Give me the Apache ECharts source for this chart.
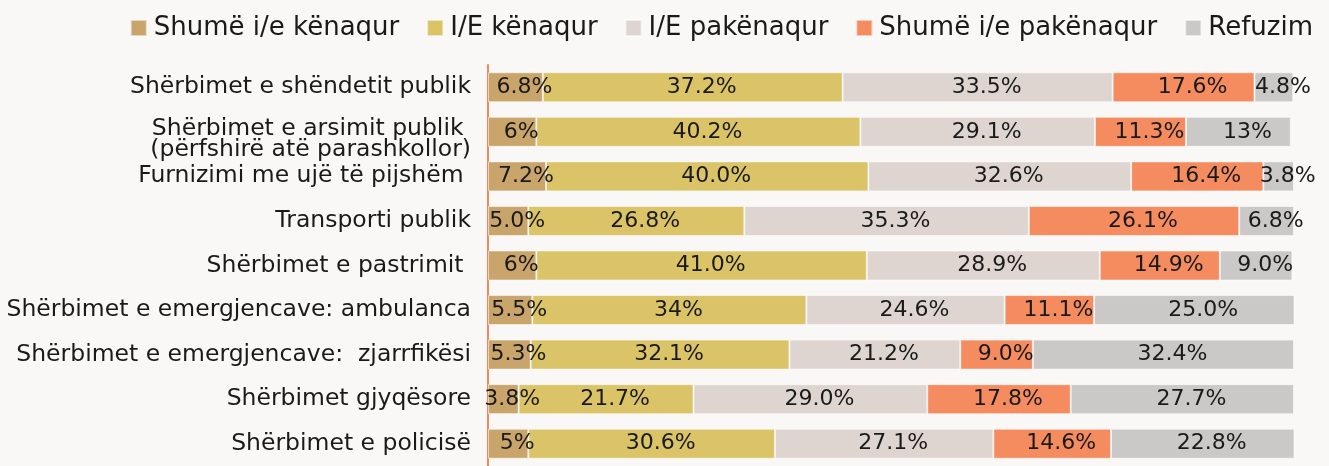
<!DOCTYPE html>
<html>
<head>
<meta charset="utf-8">
<script src="https://cdn.jsdelivr.net/npm/echarts@6/dist/echarts.min.js"></script>
<style>
  html, body { margin: 0; padding: 0; background: #f9f8f6; }
  #chart { width: 1329px; height: 466px; }
</style>
</head>
<body>
<div id="chart"></div>
<script>
// Services rated (top to bottom)
const categories = [
  'Shërbimet e shëndetit publik',
  'Shërbimet e arsimit publik \n(përfshirë atë parashkollor)',
  'Furnizimi me ujë të pijshëm ',
  'Transporti publik',
  'Shërbimet e pastrimit ',
  'Shërbimet e emergjencave: ambulanca',
  'Shërbimet e emergjencave:  zjarrfikësi',
  'Shërbimet gjyqësore',
  'Shërbimet e policisë'
];

const seriesNames = ['Shumë i/e kënaqur', 'I/E kënaqur', 'I/E pakënaqur', 'Shumë i/e pakënaqur', 'Refuzim'];

// Shares in percent, written as shown on the labels
const veryPleased    = ['6.8', '6',    '7.2',  '5.0',  '6',    '5.5',  '5.3',  '3.8',  '5'];
const pleased        = ['37.2', '40.2', '40.0', '26.8', '41.0', '34',   '32.1', '21.7', '30.6'];
const displeased     = ['33.5', '29.1', '32.6', '35.3', '28.9', '24.6', '21.2', '29.0', '27.1'];
const veryDispleased = ['17.6', '11.3', '16.4', '26.1', '14.9', '11.1', '9.0',  '17.8', '14.6'];
const refused        = ['4.8',  '13',   '3.8',  '6.8',  '9.0',  '25.0', '32.4', '27.7', '22.8'];

const colors = ['#c9a46b', '#dbc367', '#ded5d0', '#f48c60', '#cac9c7'];
const FONT = 'DejaVu Sans';

const allValues = [veryPleased, pleased, displeased, veryDispleased, refused];

const chart = echarts.init(document.getElementById('chart'), null, { renderer: 'canvas' });

chart.setOption({
  backgroundColor: '#f9f8f6',
  animation: false,
  color: colors,
  legend: {
    top: 10,
    right: 11,
    itemWidth: 16,
    itemHeight: 16,
    itemGap: 27,
    icon: 'rect',
    textStyle: { fontFamily: FONT, fontSize: 26, color: '#1a1a1a', padding: [0, 0, 0, 2] },
    data: seriesNames
  },
  grid: { left: 488, right: 35, top: 65, height: 408, containLabel: false },
  xAxis: { type: 'value', min: 0, max: 100, show: false },
  yAxis: {
    type: 'category',
    inverse: true,
    data: categories,
    axisLine: { show: true, lineStyle: { color: '#f08a5d', width: 2 } },
    axisTick: { show: false },
    splitLine: { show: false },
    axisLabel: {
      margin: 17,
      fontFamily: FONT,
      fontSize: 23.5,
      color: '#1a1a1a',
      lineHeight: 21,
      // two-line names get a short spacer line so the pair sits a bit lower
      formatter: v => v.indexOf('\n') >= 0
        ? '{sp| }\n' + v.split('\n').map(l => '{t|' + l + '}').join('\n')
        : v,
      rich: {
        sp: { fontSize: 4, lineHeight: 16 },
        t: { fontFamily: FONT, fontSize: 23.5, color: '#1a1a1a', lineHeight: 21 }
      }
    }
  },
  series: allValues.map((vals, si) => ({
    name: seriesNames[si],
    type: 'bar',
    stack: 'total',
    barWidth: 30,
    data: vals.map(Number),
    itemStyle: { color: colors[si], borderColor: 'rgba(255,255,255,0.55)', borderWidth: 1 },
    label: {
      show: true,
      position: 'inside',
      // text sits a little right of each segment's centre
      padding: [0, 0, 0, 18],
      fontFamily: FONT,
      fontSize: 22,
      color: '#1a1a1a',
      formatter: p => vals[p.dataIndex] + '%'
    }
  }))
});
</script>
</body>
</html>
